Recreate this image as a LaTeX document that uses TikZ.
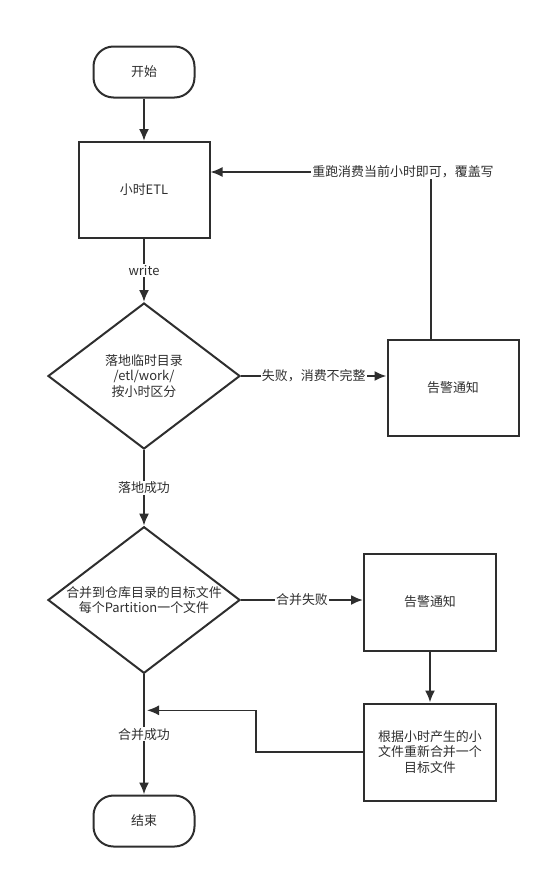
\documentclass[tikz,border=0pt]{standalone}
\usepackage{fontspec}
\usepackage{tikz}
\usetikzlibrary{shapes.geometric, arrows.meta}
\newfontfamily\cjk{Noto Sans CJK SC}
\definecolor{linegray}{HTML}{2E2E2E}
\tikzstyle{terminal} = [rectangle, rounded corners=20bp, minimum width=101bp, minimum height=51bp, text centered, draw=linegray, line width=2bp]
\tikzstyle{process} = [rectangle, minimum width=131bp, minimum height=96bp, text centered, align=center, draw=linegray, line width=2bp]
\tikzstyle{decision} = [diamond, aspect=1.31, inner sep=0pt, minimum width=192bp, minimum height=146bp, text centered, align=center, draw=linegray, line width=2bp]
\tikzstyle{arrow} = [line width=2bp, draw=linegray, -{Latex[length=12bp,width=10bp]}]
\tikzstyle{backarrow} = [line width=1.5bp, draw=linegray, -{Latex[length=12bp,width=10bp]}]
\tikzstyle{edgetext} = [fill=white, inner sep=1bp, text=linegray]

\begin{document}
\begin{tikzpicture}[x=1bp, y=-1bp, font=\cjk\fontsize{13}{16}\selectfont, text=linegray]

    \useasboundingbox (0,0) rectangle (549,878);

    % Nodes
    \node (start) [terminal] at (144,72) {开始};
    \node (etl) [process, node distance=118bp, below of=start] {小时ETL};
    \node (landing) [decision, node distance=186bp, below of=etl] {落地临时目录\\/etl/work/\\按小时区分};
    \node (alert1) [process, node distance=309bp, right of=landing, yshift=-12bp] {告警通知};
    \node (merge) [decision, node distance=224bp, below of=landing] {合并到仓库目录的目标文件\\每个Partition一个文件};
    \node (alert2) [process, minimum width=132bp, minimum height=97bp, node distance=286bp, right of=merge, yshift=-2bp] {告警通知};
    \node (remerge) [process, minimum width=132bp, minimum height=97bp, node distance=150bp, below of=alert2] {根据小时产生的小\\文件重新合并一个\\目标文件};
    \node (finish) [terminal, node distance=221bp, below of=merge] {结束};
    \coordinate (join) at ([yshift=-36bp]merge.south);

    % Arrows
    \draw [arrow] (start) -- (etl);
    \draw [arrow] (etl) -- node [edgetext] {write} (landing);
    \draw [arrow] (landing.east) -- node [edgetext] {失败，消费不完整} (landing.east -| alert1.west);
    \draw [backarrow] ([xshift=-22bp]alert1.north) |- ([yshift=18bp]etl.east);
    \node (rerun) [edgetext] at (403,172) {重跑消费当前小时即可，覆盖写};
    \draw [arrow] (landing) -- node [edgetext] {落地成功} (merge);
    \draw [arrow] (merge.east) -- node [edgetext] {合并失败} (merge.east -| alert2.west);
    \draw [arrow] (alert2) -- (remerge);
    \draw [backarrow] (remerge.west) -- ++(-107,0) |- ([xshift=3bp]join);
    \draw [arrow] (merge) -- node [edgetext] {合并成功} (finish);

\end{tikzpicture}
\end{document}
